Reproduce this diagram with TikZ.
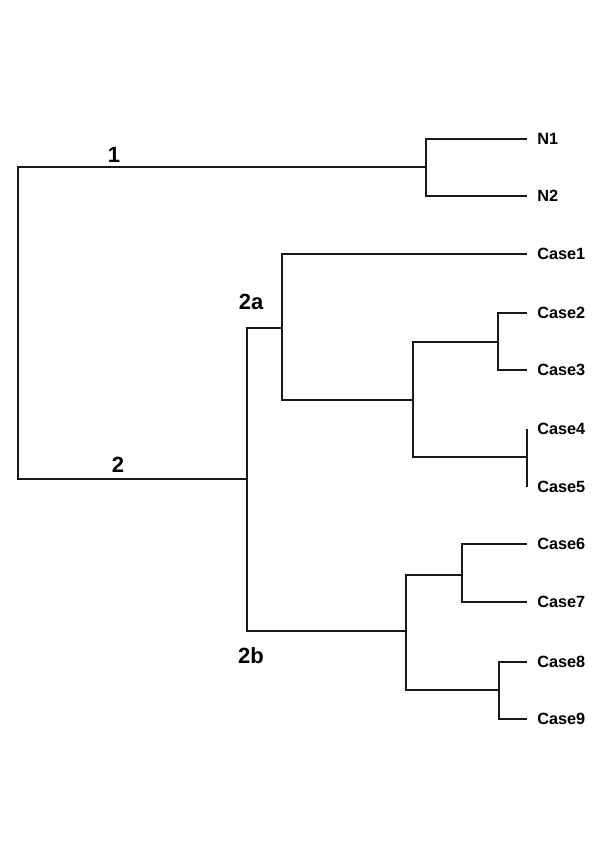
\documentclass[tikz,border=0pt]{standalone}
\usepackage{fontspec}
\setmainfont{Liberation Sans}

\begin{document}
\begin{tikzpicture}[
  x=0.75pt,y=-0.75pt,
  leaf/.style={anchor=west,inner xsep=7.5pt,inner ysep=0pt,font=\fontsize{12.2}{14}\selectfont\bfseries},
  clade/.style={inner sep=0pt,font=\fontsize{16.5}{19}\selectfont\bfseries},
  branch/.style={line width=1pt,black!90}
]
\useasboundingbox (0,0) rectangle (600,849);

% leaves
\node[leaf] (n1) at (527,139) {N1};
\node[leaf] (n2) at (527,196) {N2};
\node[leaf] (case1) at (527,254) {Case1};
\node[leaf] (case2) at (527,313) {Case2};
\node[leaf] (case3) at (527,370) {Case3};
\node[leaf] (case4) at (527,429) {Case4};
\node[leaf] (case5) at (527,487) {Case5};
\node[leaf] (case6) at (527,544) {Case6};
\node[leaf] (case7) at (527,602) {Case7};
\node[leaf] (case8) at (527,662) {Case8};
\node[leaf] (case9) at (527,719) {Case9};

% inner nodes
\coordinate (root) at (18,323);
\coordinate (nN) at (426,167);
\coordinate (c2) at (247,479);
\coordinate (c2a) at (282,328);
\coordinate (c2b) at (406,631);
\coordinate (c25) at (413,400);
\coordinate (c23) at (498,342);
\coordinate (c45) at (527,457);
\coordinate (c67) at (462,575);
\coordinate (c89) at (499,690);

% clade labels
\node[clade] (lab1) at (114,155) {1};
\node[clade] (lab2) at (118,465) {2};
\node[clade] (lab2a) at (251,302) {2a};
\node[clade] (lab2b) at (251,656) {2b};

% branches
\draw[branch] (root) |- (nN);
\draw[branch] (root) |- (c2);
\draw[branch] (nN) |- (n1.west);
\draw[branch] (nN) |- (n2.west);
\draw[branch] (c2) |- (c2a);
\draw[branch] (c2) |- (c2b);
\draw[branch] (c2a) |- (case1.west);
\draw[branch] (c2a) |- (c25);
\draw[branch] (c25) |- (c23);
\draw[branch] (c25) |- (c45);
\draw[branch] (c23) |- (case2.west);
\draw[branch] (c23) |- (case3.west);
\draw[branch] (c45) |- (case4.west);
\draw[branch] (c45) |- (case5.west);
\draw[branch] (c2b) |- (c67);
\draw[branch] (c2b) |- (c89);
\draw[branch] (c67) |- (case6.west);
\draw[branch] (c67) |- (case7.west);
\draw[branch] (c89) |- (case8.west);
\draw[branch] (c89) |- (case9.west);
\end{tikzpicture}
\end{document}
